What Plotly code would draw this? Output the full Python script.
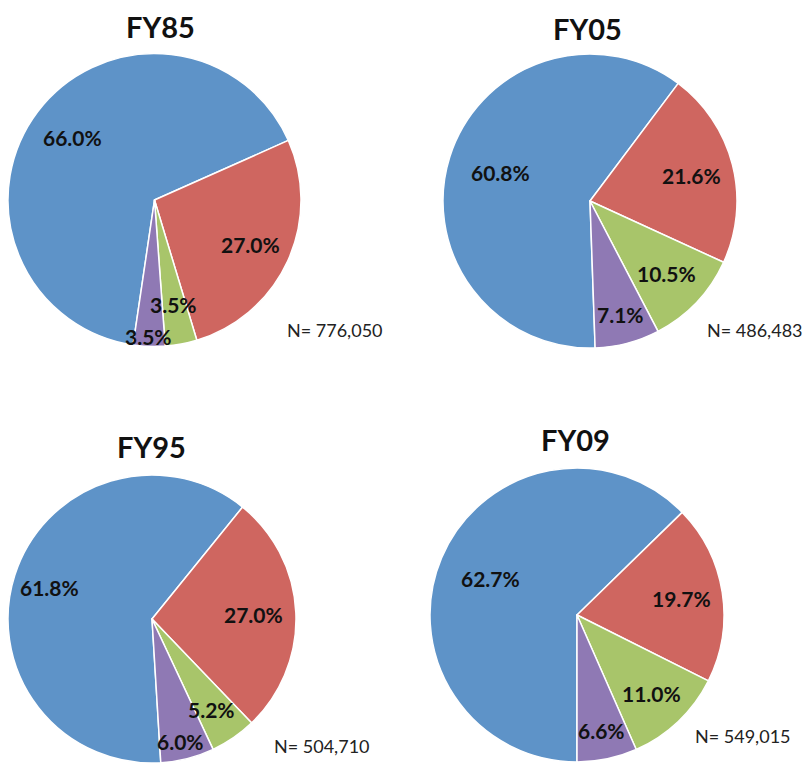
import math
import plotly.graph_objects as go

# the page body adds an 8px margin, so the figure is drawn 8px smaller
PAD = 8
W, H = 811 - PAD, 766 - PAD

years = ["FY85", "FY05", "FY95", "FY09"]
blue_vals = [66.0, 60.8, 61.8, 62.7]
red_vals = [27.0, 21.6, 27.0, 19.7]
green_vals = [3.5, 10.5, 5.2, 11.0]
purple_vals = [3.5, 7.1, 6.0, 6.6]
n_labels = ["N= 776,050", "N= 486,483", "N= 504,710", "N= 549,015"]

colors = ["#5E93C8", "#CF6660", "#A8C56A", "#8F79B4"]

# layout (screen pixels): pie centre, radius, start angle, title / N-label spots
centers = [(154, 200), (590, 201), (149, 619), (577, 615)]
radius = 147
rotations = [188.4, 178, 176.5, 180]
title_pos = [(160, 27), (587, 28), (151, 446), (575, 439)]
n_pos = [(285, 330), (705, 330), (272, 746), (693, 736)]
label_r = [[0.70, 0.72, 0.72, 0.93],
           [0.64, 0.71, 0.72, 0.80],
           [0.71, 0.71, 0.75, 0.86],
           [0.64, 0.72, 0.74, 0.80]]

FONT = "Lato, 'Open Sans', sans-serif"


def px2paper(x, y):
    return (x - PAD) / W, 1 - (y - PAD) / H


fig = go.Figure()
annotations = []

for i, year in enumerate(years):
    vals = [blue_vals[i], red_vals[i], green_vals[i], purple_vals[i]]
    cx, cy = centers[i]
    x0, y1 = px2paper(cx - radius, cy - radius)
    x1, y0 = px2paper(cx + radius, cy + radius)
    fig.add_trace(go.Pie(
        values=vals,
        labels=["A", "B", "C", "D"],
        marker=dict(colors=colors, line=dict(color="white", width=1.5)),
        sort=False,
        direction="clockwise",
        rotation=rotations[i],
        textinfo="none",
        hoverinfo="value",
        showlegend=False,
        domain=dict(x=[max(0, x0), min(1, x1)], y=[max(0, y0), min(1, y1)]),
    ))

    total = sum(vals)
    start = rotations[i]
    for j, v in enumerate(vals):
        mid = math.radians(start + v / total * 180)
        start += v / total * 360
        f = label_r[i][j] * radius
        ax, ay = px2paper(cx + f * math.sin(mid), cy - f * math.cos(mid))
        annotations.append(dict(
            text=f"<b>{v:.1f}%</b>", x=ax, y=ay,
            xanchor="center", yanchor="middle",
            xref="paper", yref="paper", showarrow=False,
            font=dict(family=FONT, size=21, color="#111111"),
        ))

    tx, ty = px2paper(*title_pos[i])
    annotations.append(dict(
        text=f"<b>{year}</b>", x=tx, y=ty,
        xanchor="center", yanchor="middle",
        xref="paper", yref="paper", showarrow=False,
        font=dict(family=FONT, size=29, color="#111111"),
    ))
    nx, ny = px2paper(*n_pos[i])
    annotations.append(dict(
        text=n_labels[i], x=nx, y=ny,
        xanchor="left", yanchor="middle",
        xref="paper", yref="paper", showarrow=False,
        font=dict(family=FONT, size=18, color="#222222"),
    ))

fig.update_layout(
    width=W, height=H,
    margin=dict(l=0, r=0, t=0, b=0),
    paper_bgcolor="white",
    plot_bgcolor="white",
    annotations=annotations,
)

fig.write_html("out.html")
